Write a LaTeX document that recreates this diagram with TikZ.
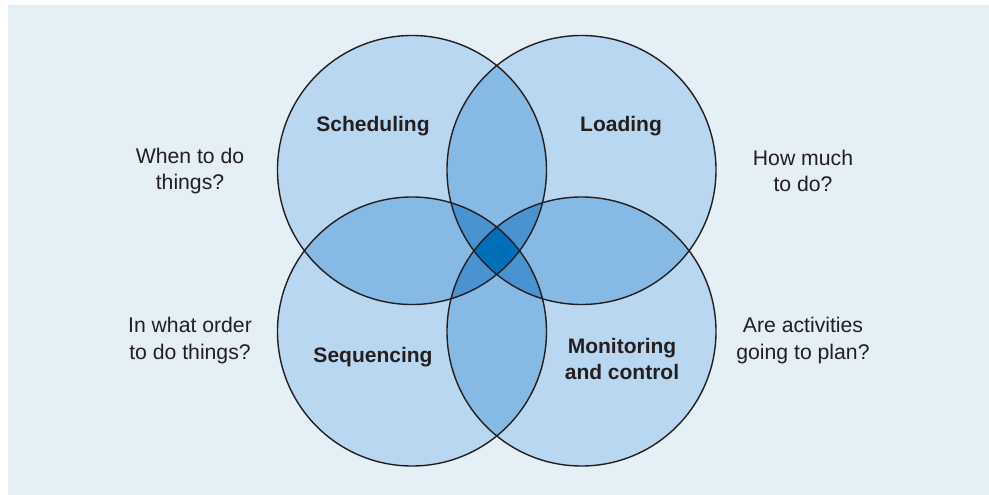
\documentclass[tikz,border=0pt]{standalone}
\usepackage{fontspec}
\setmainfont{Liberation Sans}
\definecolor{bgc}{HTML}{E4EFF6}
\definecolor{cone}{HTML}{B9D7F0}
\definecolor{ctwo}{HTML}{86B9E4}
\definecolor{cthree}{HTML}{4A93D1}
\definecolor{cfour}{HTML}{0070BA}
\definecolor{ink}{HTML}{231F20}
\tikzset{
  outline/.style={draw=ink, line width=1.4pt},
  lbl/.style={text=ink, align=center, font=\fontsize{21.2}{26.5}\selectfont, inner sep=0pt},
  title/.style={lbl, font=\fontsize{21}{26.5}\selectfont\bfseries},
}
\begin{document}
\begin{tikzpicture}[x=1pt,y=-1pt]
\useasboundingbox (0,0) rectangle (989,495);
\fill[bgc] (8,5) rectangle (989,495);
\def\R{134.5pt}
\coordinate (A) at (412,170);
\coordinate (B) at (581.5,170);
\coordinate (C) at (412,331.5);
\coordinate (D) at (581.5,331.5);
% single
\fill[cone] (A) circle[radius=\R] (B) circle[radius=\R] (C) circle[radius=\R] (D) circle[radius=\R];
% pairs
\begin{scope}\clip (A) circle[radius=\R];
  \fill[ctwo] (B) circle[radius=\R] (C) circle[radius=\R] (D) circle[radius=\R];
\end{scope}
\begin{scope}\clip (B) circle[radius=\R];
  \fill[ctwo] (C) circle[radius=\R] (D) circle[radius=\R];
\end{scope}
\begin{scope}\clip (C) circle[radius=\R];
  \fill[ctwo] (D) circle[radius=\R];
\end{scope}
% triples
\begin{scope}\clip (A) circle[radius=\R]; \clip (B) circle[radius=\R];
  \fill[cthree] (C) circle[radius=\R] (D) circle[radius=\R];
\end{scope}
\begin{scope}\clip (A) circle[radius=\R]; \clip (C) circle[radius=\R];
  \fill[cthree] (D) circle[radius=\R];
\end{scope}
\begin{scope}\clip (B) circle[radius=\R]; \clip (C) circle[radius=\R];
  \fill[cthree] (D) circle[radius=\R];
\end{scope}
% quadruple
\begin{scope}\clip (A) circle[radius=\R]; \clip (B) circle[radius=\R]; \clip (C) circle[radius=\R];
  \fill[cfour] (D) circle[radius=\R];
\end{scope}
% outlines
\draw[outline] (A) circle[radius=\R] (B) circle[radius=\R] (C) circle[radius=\R] (D) circle[radius=\R];
% labels
\node[title] (sched) at (373,126.5) {Scheduling};
\node[title] (load) at (621,126.5) {Loading};
\node[title] (seq) at (373,357.5) {Sequencing};
\node[title] (mon) at (622,359) {Monitoring\\and control};
\node[lbl] (when) at (190,171) {When to do\\things?};
\node[lbl] (much) at (803,171) {How much\\to do?};
\node[lbl] (order) at (190,340.5) {In what order\\to do things?};
\node[lbl] (plan) at (803,340.5) {Are activities\\going to plan?};
\end{tikzpicture}
\end{document}
